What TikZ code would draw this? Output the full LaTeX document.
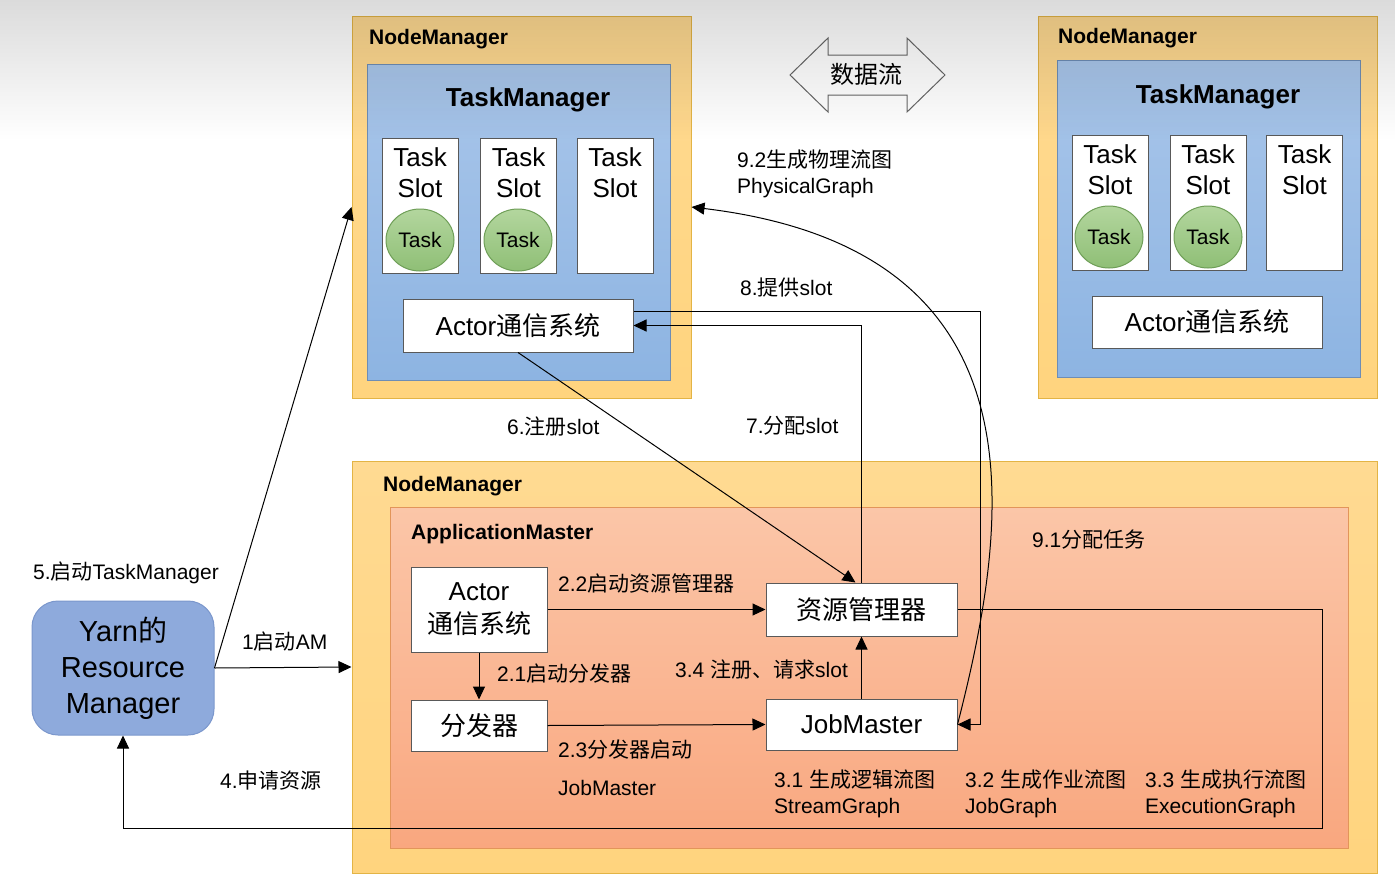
\documentclass[tikz,border=0pt]{standalone}
\usepackage{fontspec}
\setmainfont{Liberation Sans}
\newfontfamily\cjk{Noto Sans CJK SC}
\newcommand{\zh}[1]{{\cjk #1}}
\usepackage{xcolor}
\usepackage{tikz}
\usetikzlibrary{shapes.geometric, arrows.meta, positioning, fadings}

\definecolor{nmfill}{HTML}{FFDA92}
\definecolor{nmfillb}{HTML}{FFD47E}
\definecolor{nmline}{HTML}{E3B445}
\definecolor{tmfill}{HTML}{A9C6EA}
\definecolor{tmfillb}{HTML}{8DB4E2}
\definecolor{tmline}{HTML}{6E8DB5}
\definecolor{amfill}{HTML}{FBC6A8}
\definecolor{amfillb}{HTML}{F9A77F}
\definecolor{amline}{HTML}{E2955A}
\definecolor{yarnfill}{HTML}{8EAADC}
\definecolor{yarnline}{HTML}{7B97CC}
\definecolor{taskfill}{HTML}{B3D69E}
\definecolor{taskfillb}{HTML}{8FBF76}
\definecolor{taskline}{HTML}{6E9E57}

\tikzfading[name=topfade, top color=transparent!0, bottom color=transparent!100]

\begin{document}
\begin{tikzpicture}[
    x=1pt, y=-1pt,
    nodemgr/.style={rectangle, draw=nmline, top color=nmfill, bottom color=nmfillb, line width=1pt, inner sep=0pt},
    taskmgr/.style={rectangle, draw=tmline, top color=tmfill, bottom color=tmfillb, line width=1pt, inner sep=0pt, minimum width=303pt, minimum height=316pt},
    appmaster/.style={rectangle, draw=amline, top color=amfill, bottom color=amfillb, line width=1pt, inner sep=0pt, minimum width=958pt, minimum height=341pt},
    wbox/.style={rectangle, draw=black!65, fill=white, line width=1pt, align=center, inner sep=0pt, font={\fontsize{26}{32}\selectfont}},
    slotbox/.style={wbox, minimum width=76pt, minimum height=135pt, label={[anchor=north, yshift=-10pt, align=center, inner sep=0pt, font={\fontsize{26}{31}\selectfont}]north:Task\\Slot}},
    task/.style={ellipse, draw=taskline, top color=taskfill, bottom color=taskfillb, line width=1pt, minimum width=68pt, minimum height=62pt, inner sep=0pt, font={\fontsize{21}{25}\selectfont}},
    yarn/.style={rectangle, rounded corners=26pt, draw=yarnline, fill=yarnfill, line width=1pt, minimum width=182pt, minimum height=134pt, align=center, font={\fontsize{29}{36}\selectfont}},
    head/.style={anchor=west, inner sep=0pt, font={\fontsize{21}{25}\selectfont\bfseries}},
    tmhead/.style={inner sep=0pt, font={\fontsize{26}{31}\selectfont\bfseries}},
    lbl/.style={anchor=west, inner sep=0pt, align=left, font={\fontsize{21}{26}\selectfont}},
    line/.style={line width=1pt},
    >={Triangle[length=13pt, width=12pt]}
]
\useasboundingbox (0,0) rectangle (1398,889);

% Left NodeManager
\node[nodemgr, minimum width=339pt, minimum height=382pt] (nmleft) at (521.5,207) {};
\node[taskmgr] (tmleft) at (518.5,222) {};
\node[slotbox] (slotla) at (420,205.5) {};
\node[slotbox] (slotlb) at (518.5,205.5) {};
\node[slotbox] (slotlc) at (615,205.5) {};
\node[task] (taskla) at (420,240) {Task};
\node[task] (tasklb) at (518,240) {Task};
\node[wbox, minimum width=230pt, minimum height=53pt] (actorleft) at (518,325.5) {Actor\zh{通信系统}};
\node[head] at (369,39) {NodeManager};
\node[tmhead] at (528,100) {TaskManager};

% Right NodeManager
\node[nodemgr, minimum width=339pt, minimum height=382pt] (nmright) at (1207.5,207) {};
\node[taskmgr, minimum height=317pt] (tmright) at (1208.5,218.5) {};
\node[slotbox] (slotra) at (1110,202.5) {};
\node[slotbox] (slotrb) at (1208,202.5) {};
\node[slotbox] (slotrc) at (1304.5,202.5) {};
\node[task] (taskra) at (1109,237) {Task};
\node[task] (taskrb) at (1208,237) {Task};
\node[wbox, minimum width=230pt, minimum height=52pt] (actorright) at (1207,322) {Actor\zh{通信系统}};
\node[head] at (1058,38) {NodeManager};
\node[tmhead] at (1218,97) {TaskManager};

% Data flow sign
\draw[line, draw=black!60, fill=white] (790,75) -- (828,38) -- (828,55) -- (907,55) -- (907,38) -- (945,75)
    -- (907,112) -- (907,95) -- (828,95) -- (828,112) -- cycle;
\node[font={\fontsize{24}{28}\selectfont}] (dataflow) at (866,74) {\zh{数据流}};

% Bottom NodeManager
\node[nodemgr, minimum width=1025pt, minimum height=412pt] (nmbottom) at (864.5,667) {};
\node[appmaster] (am) at (869,677.5) {};
\node[head] at (383,486) {NodeManager};
\node[head] at (411,534) {ApplicationMaster};
\node[wbox, minimum width=136pt, minimum height=85pt, font={\fontsize{26}{33}\selectfont}] (actoram) at (479,609.5) {Actor\\\zh{通信系统}};
\node[wbox, minimum width=191pt, minimum height=53pt] (resmgr) at (861.5,609.5) {\zh{资源管理器}};
\node[wbox, minimum width=136pt, minimum height=51pt] (dispatcher) at (479,725.5) {\zh{分发器}};
\node[wbox, minimum width=191pt, minimum height=51pt] (jobmaster) at (861.5,724.5) {JobMaster};

% Yarn
\node[yarn] (yarnrm) at (123,668) {Yarn\zh{的}\\Resource\\Manager};

% Labels
\node[lbl] (lbl92) at (737,174) {9.2\zh{生成物理流图}\\PhysicalGraph};
\node[lbl] (lbl8) at (740,288) {8.\zh{提供}slot};
\node[lbl] (lbl6) at (507,427) {6.\zh{注册}slot};
\node[lbl] (lbl7) at (746,426) {7.\zh{分配}slot};
\node[lbl] (lbl91) at (1032,540) {9.1\zh{分配任务}};
\node[lbl] (lbl5) at (33,573) {5.\zh{启动}TaskManager};
\node[lbl] (lbl1) at (242,642) {1\zh{启动}AM};
\node[lbl] (lbl4) at (220,781) {4.\zh{申请资源}};
\node[lbl] (lbl22) at (558,583) {2.2\zh{启动资源管理器}};
\node[lbl] (lbl21) at (497,674) {2.1\zh{启动分发器}};
\node[lbl] (lbl34) at (675,670) {3.4 \zh{注册、请求}slot};
\node[lbl] (lbl23) at (558,750) {2.3\zh{分发器启动}};
\node[lbl] (lbl23b) at (558,788) {JobMaster};
\node[lbl] (lbl31) at (774,794) {3.1 \zh{生成逻辑流图}\\StreamGraph};
\node[lbl] (lbl32) at (965,794) {3.2 \zh{生成作业流图}\\JobGraph};
\node[lbl] (lbl33) at (1145,794) {3.3 \zh{生成执行流图}\\ExecutionGraph};

% Connections
\coordinate (slotturn) at (980,311);
\coordinate (taskturn) at (1322,828);
\draw[line, ->] (yarnrm.east) -- (nmleft.west);
\draw[line, ->] (yarnrm.east) -- (nmbottom.west);
\draw[line, ->] (actoram.east) -- (resmgr.west);
\draw[line, ->] (actoram.south) -- (dispatcher.north);
\draw[line, ->] (dispatcher.east) -- (jobmaster.west);
\draw[line, ->] (jobmaster.north) -- (resmgr.south);
\draw[line, ->] (actorleft.south) -- ([xshift=-6pt]resmgr.north);
\draw[line, ->] (resmgr.north) |- (actorleft.east);
\draw[line, ->] (actorleft.east |- slotturn) -- (slotturn) |- (jobmaster.east);
\draw[line, ->] (jobmaster.east) .. controls (1010,520) and (1050,250) .. (nmleft.east);
\draw[line, ->] (resmgr.east) -| (taskturn) -| (yarnrm.south);

% Screen shade at the top
\fill[black, fill opacity=0.14, path fading=topfade] (0,0) rectangle (1398,140);
\end{tikzpicture}
\end{document}
